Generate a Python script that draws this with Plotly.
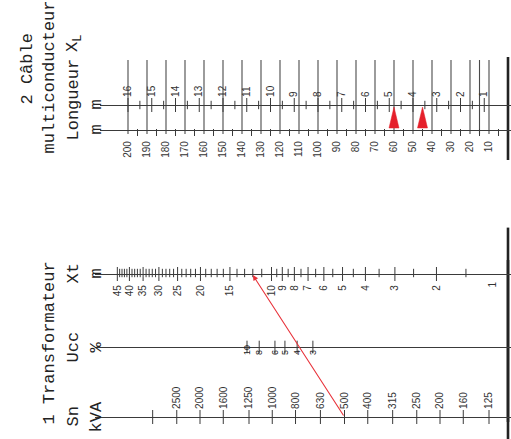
import math
import plotly.graph_objects as go

W, H = 511, 439

# ---------------- data ----------------
# 2  Câble multiconducteur
longueur_labels = [10, 20, 30, 40, 50, 60, 70, 80, 90, 100,
                   110, 120, 130, 140, 150, 160, 170, 180, 190, 200]
longueur_minor = [5, 15, 25, 35, 45, 55, 65, 75, 85, 95,
                  105, 115, 125, 135, 145, 155, 165, 175, 185, 195]
longueur_lines = [10, 15, 20, 30, 40, 50, 60, 70, 80, 90, 100,
                  110, 120, 130, 140, 150, 160, 170, 180, 190, 200]
longueur_end = 0              # frame line at the end of the scales
xl_labels = [1, 2, 3, 4, 5, 6, 7, 8, 9, 10, 11, 12, 13, 14, 15, 16]
xl_minor = [1.5, 2.5, 3.5, 4.5, 5.5, 6.5, 7.5, 8.5, 9.5, 10.5,
            11.5, 12.5, 13.5, 14.5, 15.5]
xl_per_metre = 0.08          # mOhm per metre
cable_marks = [60, 45]        # red arrows on the length scale

# 1  Transformateur
xt_labels = [2, 3, 4, 5, 6, 7, 8, 9, 10, 15, 20, 25, 30, 35, 40, 45]
xt_minor = [1.5, 2.5, 3.5, 4.5, 5.5, 6.5, 7.5, 8.5, 9.5,
            11, 12, 13, 14, 16, 17, 18, 19, 21, 22, 23, 24,
            26, 27, 28, 29, 31, 32, 33, 34, 36, 37, 38, 39, 41, 42, 43, 44]
xt_end = 1                    # last value of the Xt scale (at the frame line)
ucc_labels = [3, 4, 5, 6, 8, 10]
sn_labels = [125, 160, 200, 250, 315, 400, 500, 630, 800, 1000,
             1250, 1600, 2000, 2500]
sn_extra = [3150]
sn_pick, ucc_pick, xt_pick = 500, 4, 12

# ---------------- geometry ----------------
X0_TOP, X0_BOT, X1 = 100, 95, 511
Y_XL, Y_L, Y_XT, Y_U, Y_SN = 105, 130, 274, 347, 417
LINE_TOP, LINE_BOT = 60, 130
FRAME_TOP = (57, 160)
FRAME_BOT = (260, 422)

# value -> pixel definitions (reference value, its pixel, pixels per unit)
L_REF = (200, 128, 1.9)
XT_REF = (0.0, 507.5, 236.0)               # log10 units
UCC_REF = (1.0, 247, 126.0)
SN_REF = (math.log10(125), 489, 240.0)


def rng(ref, px0, px1):
    v, p, k = ref
    return [v + (p - px0) / k, v - (px1 - p) / k]


def px_of(ref, v):
    r0, p, k = ref
    return p - (v - r0) * k


L_RANGE = rng(L_REF, X0_TOP, X1)
XL_RANGE = [r * xl_per_metre for r in L_RANGE]
XT_RANGE = rng(XT_REF, X0_BOT, X1)

AX = "#3a3a3a"
TF = dict(family="Liberation Sans, Arial", size=10, color="#333")


def pos(y):
    return 1 - y / H


def axis(rangev, y, side, vals, texts=None, typ="linear", x0=X0_BOT, standoff=5, **kw):
    d = dict(anchor="free", position=pos(y), domain=[x0 / W, X1 / W],
             range=rangev, type=typ, tickmode="array", tickvals=vals,
             ticktext=texts if texts is not None else [str(v) for v in vals],
             tickangle=-90, side=side, showline=True, linecolor=AX,
             linewidth=1.2, ticks="", showgrid=False, zeroline=False,
             tickfont=TF, ticklabelstandoff=standoff, fixedrange=True)
    d.update(kw)
    return d


fig = go.Figure()


def ticks(xaxis, vals, y, size, width=1, color=AX):
    fig.add_trace(go.Scatter(
        x=vals, y=[y] * len(vals), xaxis=xaxis, yaxis="y", mode="markers",
        marker=dict(symbol="line-ns", size=size,
                    line=dict(width=width, color=color)),
        hoverinfo="skip", cliponaxis=False))


# ---- top: vertical guide lines for every length value
vx, vy = [], []
for L in longueur_lines:
    vx += [L, L, None]
    vy += [LINE_TOP, LINE_BOT + 4, None]
fig.add_trace(go.Scatter(x=vx, y=vy, xaxis="x", yaxis="y", mode="lines",
                         line=dict(color="#4a4a4a", width=1.1), hoverinfo="skip"))
ticks("x", longueur_minor, Y_L + 2.5, 5)
ticks("x2", xl_labels, Y_XL, 10)
ticks("x2", xl_minor, Y_XL, 6)

# red arrows on length scale
hw = 5 / L_REF[2]
tx, ty = [], []
for L in cable_marks:
    tx += [L - hw, L + hw, L, L - hw, None]
    ty += [128, 128, 107, 128, None]
fig.add_trace(go.Scatter(x=tx, y=ty, xaxis="x", yaxis="y", mode="lines",
                         fill="toself", fillcolor="#e5202b",
                         line=dict(color="#e5202b", width=0.5), hoverinfo="skip"))

# ---- bottom ticks
ticks("x3", xt_labels, Y_XT, 10)
ticks("x3", xt_minor, Y_XT - 1, 6)
ticks("x4", ucc_labels, Y_U, 9)
ticks("x5", sn_labels + sn_extra, Y_SN, 10)

# right frame lines: both nomograms end on the same abscissa (L = 0, Xt = 1)
fig.add_trace(go.Scatter(
    x=[longueur_end, longueur_end, None, longueur_end, longueur_end],
    y=[FRAME_TOP[0], FRAME_TOP[1], None, FRAME_BOT[0], FRAME_BOT[1]],
    xaxis="x", yaxis="y", mode="lines", connectgaps=False,
    line=dict(color="#222", width=2.6), hoverinfo="skip"))
# lower frame line also drawn as a tall vertical marker (not clipped)
fig.add_trace(go.Scatter(
    x=[longueur_end], y=[(FRAME_BOT[0] + FRAME_BOT[1]) / 2], xaxis="x", yaxis="y",
    mode="markers", cliponaxis=False, hoverinfo="skip",
    marker=dict(symbol="line-ns", size=FRAME_BOT[1] - FRAME_BOT[0],
                line=dict(width=2.6, color="#222"))))

# label of the last Xt graduation, set just left of the frame line
fig.add_annotation(x=math.log10(xt_end), y=Y_XT + 6, xref="x3", yref="y",
                   text=str(xt_end), showarrow=False, textangle=-90,
                   xshift=-16, yanchor="top", font=TF)

# red construction line Sn -> Ucc -> Xt
sn_px = px_of(SN_REF, math.log10(sn_pick))
xt_equiv = 10 ** ((XT_REF[1] - sn_px) / XT_REF[2])
fig.add_annotation(x=math.log10(xt_pick), y=Y_XT + 1, xref="x3", yref="y",
                   ax=math.log10(xt_equiv), ay=Y_SN, axref="x3", ayref="y",
                   showarrow=True, arrowhead=2, arrowsize=1, arrowwidth=1.1,
                   arrowcolor="#e8323a", text="", standoff=0)

fig.update_layout(
    width=W, height=H, margin=dict(l=0, r=0, t=0, b=0),
    paper_bgcolor="white", plot_bgcolor="rgba(0,0,0,0)", showlegend=False,
    yaxis=dict(range=[H, 0], domain=[0, 1], visible=False, fixedrange=True),
    xaxis=axis(L_RANGE, Y_L, "bottom", longueur_labels, x0=X0_TOP, standoff=6),
    xaxis2=axis(XL_RANGE, Y_XL, "top", xl_labels, x0=X0_TOP, standoff=6),
    xaxis3=axis(XT_RANGE, Y_XT, "bottom", xt_labels, typ="log", standoff=6),
    xaxis4=axis(rng(UCC_REF, X0_BOT, X1), Y_U, "top", ucc_labels, typ="log",
                showticklabels=False),
    xaxis5=axis(rng(SN_REF, X0_BOT, X1), Y_SN, "top", sn_labels, typ="log", standoff=6),
    xaxis7=axis(rng(UCC_REF, X0_BOT, X1), Y_U + 8, "top", ucc_labels, typ="log",
                standoff=0, showline=False,
                tickfont=dict(family="Liberation Sans, Arial", size=9, color="#222")),
)
fig.add_trace(go.Scatter(x=[4], y=[Y_U], xaxis="x7", yaxis="y", mode="markers",
                         marker=dict(size=1, opacity=0), hoverinfo="skip"))

# ---- titles
TT = dict(family="Liberation Mono, Courier New, monospace", size=17, color="#222")


def title(text, x, y):
    fig.add_annotation(text=text, x=x / W, y=y, xref="paper", yref="y",
                       textangle=-90, showarrow=False, font=TT)


title("2 Câble", 15, 69)
title("multiconducteur", 37, 77)
title("Longueur", 61, 100)
title("X<sub>L</sub>", 61, 44)
title("m", 84, 105)
title("m", 84, 130)
title("1 Transformateur", 37, 343)
title("Xt", 61, Y_XT)
title("Ucc", 61, Y_U)
title("Sn", 61, Y_SN)
title("m", 84, Y_XT)
title("%", 84, Y_U)
title("kVA", 84, Y_SN)

fig.write_html("out.html", config={"displayModeBar": False},
               post_script="document.body.style.margin='0';"
               "document.body.style.overflow='hidden';")
